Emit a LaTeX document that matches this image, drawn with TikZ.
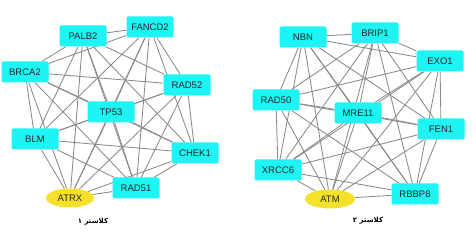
\documentclass[tikz,border=0pt]{standalone}
\usepackage{fontspec}
\setmainfont{Liberation Sans}
\newfontfamily\arabicfont[Script=Arabic]{DejaVu Sans}
\TeXXeTstate=1
\usetikzlibrary{backgrounds,shapes.geometric}
\definecolor{boxcyan}{HTML}{1EF4F4}
\definecolor{ellyellow}{HTML}{F5E12A}
\definecolor{edgegray}{HTML}{8A8A8A}
\tikzset{
  gene/.style={fill=boxcyan, rounded corners=1.5pt, minimum width=47pt, minimum height=21pt, inner sep=0pt, font=\fontsize{9.5}{11}\selectfont, text=black!85},
  hub/.style={ellipse, fill=ellyellow, minimum width=48pt, minimum height=19pt, inner sep=0pt, font=\fontsize{9.5}{11}\selectfont, text=black!85},
  edge/.style={draw=edgegray, line width=0.85pt},
  clabel/.style={font=\arabicfont\bfseries\fontsize{7}{8}\selectfont}
}
\begin{document}
\begin{tikzpicture}[x=1pt,y=-1pt]
\useasboundingbox (0,0) rectangle (476,245);
% cluster 1
\node[gene] (PALB2) at (83,36) {PALB2};
\node[gene] (FANCD2) at (150,27) {FANCD2};
\node[gene] (BRCA2) at (25,72) {BRCA2};
\node[gene] (RAD52) at (187,85) {RAD52};
\node[gene] (TP53) at (111,112) {TP53};
\node[gene] (BLM) at (35,139) {BLM};
\node[gene] (CHEK1) at (195,153) {CHEK1};
\node[gene] (RAD51) at (136,188) {RAD51};
\node[hub] (ATRX) at (70,198) {ATRX};
\node[clabel] (cap1) at (93,222) {\beginR کلاستر ۱\endR};
% cluster 2
\node[gene] (NBN) at (303,37) {NBN};
\node[gene] (BRIP1) at (375,33) {BRIP1};
\node[gene] (EXO1) at (440,61) {EXO1};
\node[gene] (RAD50) at (276,100) {RAD50};
\node[gene] (MRE11) at (358,113) {MRE11};
\node[gene] (FEN1) at (441,129) {FEN1};
\node[gene] (XRCC6) at (278,170) {XRCC6};
\node[gene] (RBBP8) at (415,194) {RBBP8};
\node[hub, minimum width=50pt] (ATM) at (330,199) {ATM};
\node[clabel] (cap2) at (368,221) {\beginR کلاستر ۲\endR};
\begin{scope}[on background layer]
\foreach \a [count=\i] in {PALB2,FANCD2,BRCA2,RAD52,TP53,BLM,CHEK1,RAD51,ATRX}{
  \foreach \b [count=\j] in {PALB2,FANCD2,BRCA2,RAD52,TP53,BLM,CHEK1,RAD51,ATRX}{
    \ifnum\j>\i \draw[edge] (\a) -- (\b); \fi
  }
}
\foreach \a [count=\i] in {NBN,BRIP1,EXO1,RAD50,MRE11,FEN1,XRCC6,RBBP8,ATM}{
  \foreach \b [count=\j] in {NBN,BRIP1,EXO1,RAD50,MRE11,FEN1,XRCC6,RBBP8,ATM}{
    \ifnum\j>\i \draw[edge] (\a) -- (\b); \fi
  }
}
\end{scope}
\end{tikzpicture}
\end{document}
